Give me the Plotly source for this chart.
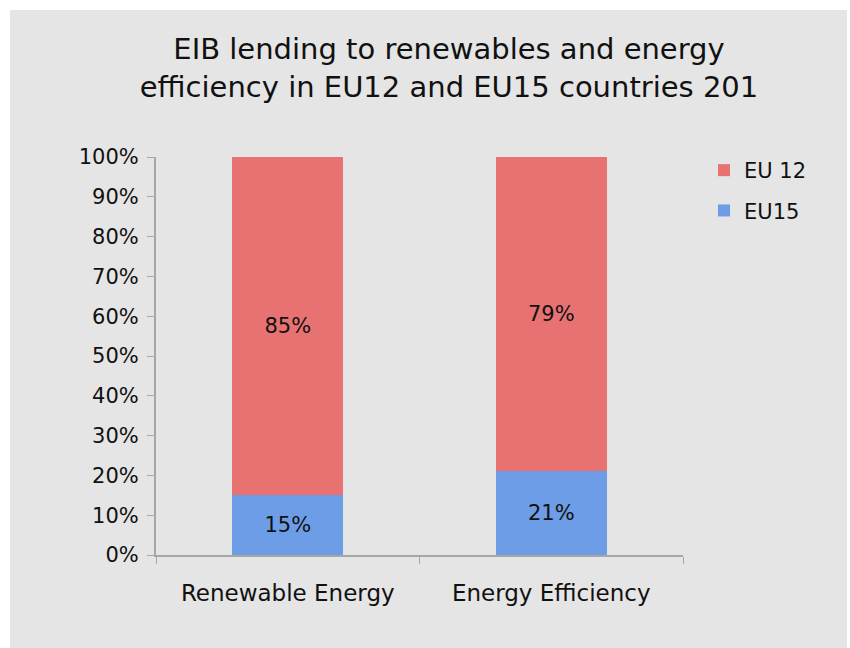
import plotly.graph_objects as go

categories = ["Renewable Energy", "Energy Efficiency"]
eu15_values = [0.15, 0.21]
eu12_values = [0.85, 0.79]
y_tick_values = [0, 0.1, 0.2, 0.3, 0.4, 0.5, 0.6, 0.7, 0.8, 0.9, 1.0]
y_tick_labels = ["0%", "10%", "20%", "30%", "40%", "50%", "60%", "70%", "80%", "90%", "100%"]
title_text = "EIB lending to renewables and energy<br>efficiency in EU12 and EU15 countries 201"

FONT = "DejaVu Sans"
W, H = 850, 648
L, R, T, B = 156, 167, 157, 93

fig = go.Figure()
fig.add_trace(go.Bar(
    x=categories, y=eu15_values, name="EU15",
    marker=dict(color="#6d9de6", line=dict(width=0)),
    texttemplate="%{y:.0%}", textposition="inside", insidetextanchor="middle",
    textfont=dict(family=FONT, size=21, color="#111111"),
    legendgroup="a", legendrank=2, width=0.42,
))
fig.add_trace(go.Bar(
    x=categories, y=eu12_values, name="EU 12",
    marker=dict(color="#e87272", line=dict(width=0)),
    texttemplate="%{y:.0%}", textposition="inside", insidetextanchor="middle",
    textfont=dict(family=FONT, size=21, color="#111111"),
    legendgroup="b", legendrank=1, width=0.42,
))

pw = W - L - R
ph = H - T - B
fig.update_layout(
    width=W, height=H,
    margin=dict(l=L, r=R, t=T, b=B, pad=0),
    barmode="stack",
    paper_bgcolor="white",
    plot_bgcolor="rgba(0,0,0,0)",
    font=dict(family=FONT, color="#111111"),
    title=dict(text=title_text, x=449 / W, xanchor="center",
               y=1 - 59 / H, yanchor="top", yref="container",
               font=dict(family=FONT, size=29, color="#111111")),
    showlegend=True,
    legend=dict(x=(704 - L) / pw, xanchor="left", y=1 + (T - 150) / ph, yanchor="top",
                traceorder="grouped",
                font=dict(family=FONT, size=21, color="#111111"),
                bgcolor="rgba(0,0,0,0)", tracegroupgap=10, itemwidth=30),
    shapes=[dict(type="rect", xref="paper", yref="paper", layer="below",
                 x0=(10 - L) / pw, x1=(847 - L) / pw,
                 y0=-(H - T - ph) / ph - 0.01, y1=1 + (T - 10) / ph,
                 fillcolor="#e5e5e5", line=dict(width=0))],
    xaxis=dict(showline=True, linecolor="#a6a6a6", linewidth=2,
               ticks="outside", tickson="boundaries", ticklen=7, tickcolor="#a6a6a6", tickwidth=1,
               tickfont=dict(family=FONT, size=23, color="#111111"),
               ticklabelstandoff=16, showgrid=False),
    yaxis=dict(range=[0, 1], showline=True, linecolor="#a6a6a6", linewidth=2,
               ticks="outside", ticklen=7, tickcolor="#a6a6a6", tickwidth=1,
               tickvals=y_tick_values, ticktext=y_tick_labels,
               tickfont=dict(family=FONT, size=21, color="#111111"),
               ticklabelstandoff=4, showgrid=False, zeroline=False),
)

fig.write_html("out.html", config={"displayModeBar": False},
               post_script="document.body.style.margin='0';")
